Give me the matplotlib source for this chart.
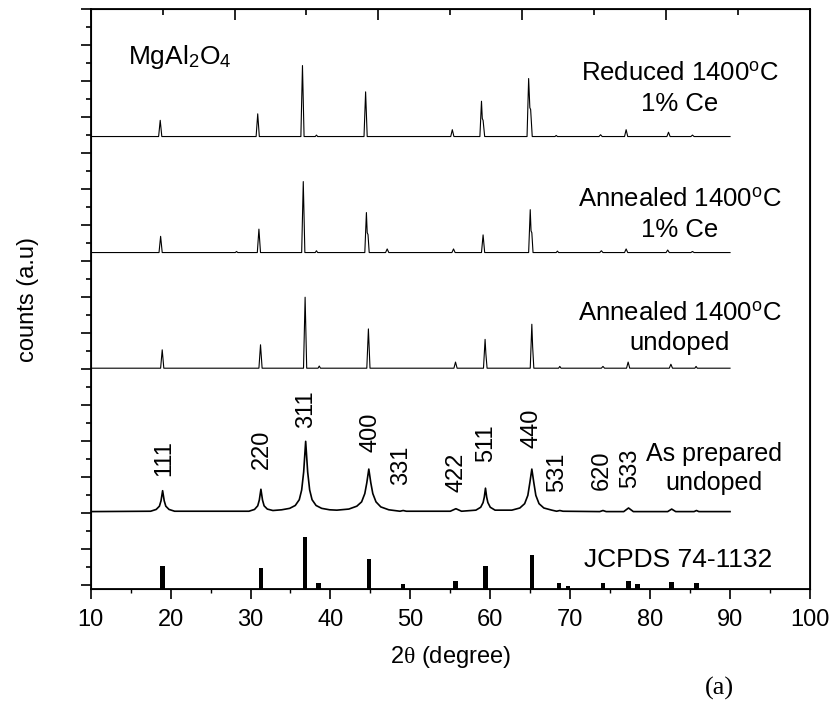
import numpy as np
import matplotlib
matplotlib.use("Agg")
import matplotlib.pyplot as plt

plt.rcParams['font.family'] = ['Liberation Sans', 'DejaVu Sans']
plt.rcParams['mathtext.fontset'] = 'custom'
plt.rcParams['mathtext.rm'] = 'Liberation Sans'
plt.rcParams['mathtext.it'] = 'Liberation Serif'

# XRD patterns (2theta, intensity above own baseline)
reduced_x = [10, 18.5, 18.7, 18.9, 30.7, 30.9, 31.1, 36.3, 36.5, 36.7, 38.1, 38.25, 38.4,
             44.2, 44.4, 44.6, 55.05, 55.25, 55.45, 58.7, 58.9, 59.0, 59.1, 59.3,
             64.6, 64.8, 64.95, 65.05, 65.25, 68.1, 68.25, 68.4, 73.6, 73.8, 74.0,
             76.8, 77.0, 77.2, 82.1, 82.3, 82.5, 85.1, 85.3, 85.5, 90]
reduced_y = [0, 0, 0.45, 0, 0, 0.63, 0, 0, 1.97, 0, 0, 0.04, 0,
             0, 1.24, 0, 0, 0.19, 0, 0, 0.98, 0.5, 0.45, 0,
             0, 1.61, 0.8, 0.75, 0, 0, 0.03, 0, 0, 0.05, 0,
             0, 0.19, 0, 0, 0.12, 0, 0, 0.04, 0, 0]

ann_ce_x = [10, 18.55, 18.75, 18.95, 28.1, 28.25, 28.4, 30.85, 31.05, 31.25, 36.4, 36.6, 36.8,
            38.1, 38.25, 38.4, 44.3, 44.5, 44.6, 44.7, 44.85, 46.9, 47.1, 47.3,
            55.2, 55.4, 55.6, 58.9, 59.1, 59.3, 64.8, 65.0, 65.1, 65.2, 65.35,
            68.25, 68.4, 68.55, 73.7, 73.9, 74.1, 76.8, 77.0, 77.2, 82.0, 82.2, 82.4,
            85.1, 85.3, 85.5, 90]
ann_ce_y = [0, 0, 0.45, 0, 0, 0.03, 0, 0, 0.65, 0, 0, 1.97, 0,
            0, 0.05, 0, 0, 1.11, 0.55, 0.5, 0, 0, 0.1, 0,
            0, 0.1, 0, 0, 0.49, 0, 0, 1.19, 0.6, 0.55, 0,
            0, 0.04, 0, 0, 0.05, 0, 0, 0.1, 0, 0, 0.07, 0,
            0, 0.03, 0, 0]

ann_un_x = [10, 18.75, 18.95, 19.15, 31.05, 31.25, 31.45, 36.63, 36.83, 37.03,
            38.45, 38.6, 38.75, 44.55, 44.75, 44.95, 55.45, 55.65, 55.85,
            59.15, 59.35, 59.45, 59.6, 65.0, 65.2, 65.3, 65.45, 68.55, 68.7, 68.85,
            73.9, 74.1, 74.3, 77.05, 77.25, 77.45, 82.4, 82.6, 82.8, 85.6, 85.75, 85.9, 90]
ann_un_y = [0, 0, 0.51, 0, 0, 0.65, 0, 0, 1.97, 0,
            0, 0.06, 0, 0, 1.09, 0, 0, 0.17, 0,
            0, 0.8, 0.4, 0, 0, 1.22, 0.6, 0, 0, 0.05, 0,
            0, 0.05, 0, 0, 0.17, 0, 0, 0.11, 0, 0, 0.05, 0, 0]

prep_x = [10, 17.5, 18.2, 18.6, 18.8, 19.0, 19.2, 19.4, 19.8, 20.5,
          29.8, 30.5, 30.9, 31.1, 31.3, 31.5, 31.7, 32.1, 32.8,
          33.9, 34.9, 35.6, 36.1, 36.4, 36.65, 36.9, 37.15, 37.4, 37.7, 38.2, 38.9, 39.9, 40.8,
          42.3, 43.3, 43.9, 44.3, 44.55, 44.8, 45.05, 45.3, 45.7, 46.3, 47.3,
          48.7, 49.1, 49.5, 55.0, 55.7, 56.4,
          58.2, 58.8, 59.1, 59.25, 59.4, 59.55, 59.7, 60.0, 60.6,
          62.7, 63.7, 64.3, 64.7, 64.95, 65.2, 65.45, 65.7, 66.1, 66.7, 67.7,
          68.3, 68.7, 69.1, 73.7, 74.1, 74.5, 76.7, 77.0, 77.3, 77.6, 77.9,
          82.2, 82.7, 83.2, 85.5, 85.8, 86.1, 90]
prep_y = [0, 0.01, 0.06, 0.15, 0.3, 0.58, 0.3, 0.15, 0.06, 0.01,
          0.01, 0.06, 0.16, 0.32, 0.62, 0.32, 0.16, 0.07, 0.03,
          0.05, 0.09, 0.17, 0.33, 0.6, 1.1, 1.95, 1.1, 0.6, 0.33, 0.17, 0.09, 0.05, 0.04,
          0.07, 0.15, 0.27, 0.5, 0.8, 1.18, 0.8, 0.5, 0.27, 0.13, 0.05,
          0.01, 0.03, 0.01, 0.01, 0.08, 0.01,
          0.04, 0.12, 0.25, 0.4, 0.65, 0.4, 0.25, 0.12, 0.04,
          0.04, 0.1, 0.22, 0.45, 0.8, 1.18, 0.8, 0.45, 0.22, 0.1, 0.04,
          0.01, 0.03, 0.01, 0, 0.03, 0, 0, 0.05, 0.1, 0.05, 0,
          0, 0.07, 0, 0, 0.03, 0, 0]

# JCPDS 74-1132 reference lines
jcpds_pos = [19.0, 31.3, 36.85, 38.5, 44.8, 49.1, 55.65, 59.4, 65.2, 68.6, 69.7,
             74.1, 77.3, 78.4, 82.7, 85.8]
jcpds_int = [0.65, 0.575, 1.44, 0.17, 0.83, 0.14, 0.22, 0.64, 0.94, 0.16, 0.09,
             0.16, 0.22, 0.13, 0.2, 0.16]

hkl_labels = ['111', '220', '311', '400', '331', '422', '511', '440', '531', '620', '533']
hkl_pos = [19.2, 31.4, 37.0, 45.0, 48.9, 55.75, 59.5, 65.1, 68.3, 74.0, 77.5]

fig = plt.figure(figsize=(8.32, 7.08), dpi=100)
ax = fig.add_axes([0.109, 0.168, 0.8645, 0.8193])

ax.plot(reduced_x, np.array(reduced_y) + 12.46, color='black', lw=0.8)
ax.plot(ann_ce_x, np.array(ann_ce_y) + 9.24, color='black', lw=0.8)
ax.plot(ann_un_x, np.array(ann_un_y) + 6.03, color='black', lw=0.8)
ax.plot(prep_x, np.array(prep_y) + 2.05, color='black', lw=1.2)
ax.bar(jcpds_pos, jcpds_int, width=0.55, bottom=-0.1, color='black')

label_bottoms = [3.04, 3.22, 4.36, 3.71, 2.79, 2.6, 3.42, 3.81, 2.6, 2.65, 2.7]
for lab, xp, yb in zip(hkl_labels, hkl_pos, label_bottoms):
    ax.text(xp, yb, lab, rotation=90, ha='center', va='bottom', fontsize=17)

ax.text(14.7, 14.68, r'MgAl$_\mathrm{2}$O$_\mathrm{4}$', fontsize=19, va='center', ha='left')
ax.text(83.7, 13.8, 'Reduced 1400$^\\mathrm{o}$C\n1% Ce', fontsize=18.5,
        ha='center', va='center', linespacing=1.35)
ax.text(83.7, 10.3, 'Annealed 1400$^\\mathrm{o}$C\n1% Ce', fontsize=18.5,
        ha='center', va='center', linespacing=1.35)
ax.text(83.7, 7.15, 'Annealed 1400$^\\mathrm{o}$C\nundoped', fontsize=18.5,
        ha='center', va='center', linespacing=1.35)
ax.text(88.0, 3.25, 'As prepared\nundoped', fontsize=18,
        ha='center', va='center', linespacing=1.3)
ax.text(83.5, 0.71, 'JCPDS 74-1132', fontsize=19, ha='center', va='center')

ax.set_xlim(10, 100)
ax.set_ylim(-0.1, 16.0)
ax.set_xticks(np.arange(10, 101, 10))
ax.set_xticks(np.arange(15, 100, 10), minor=True)
ax.set_yticks(np.arange(0, 16.1, 1))
ax.set_yticks(np.arange(0.5, 16, 1), minor=True)
ax.set_yticklabels([])
ax.tick_params(axis='x', which='major', direction='out', length=7, width=1.2, labelsize=17, pad=7)
ax.tick_params(axis='x', which='minor', direction='out', length=3, width=1.0)
ax.tick_params(axis='y', which='major', direction='out', length=7.5, width=1.2)
ax.tick_params(axis='y', which='minor', direction='out', length=3.5, width=1.2)
ax.set_xlabel(r'2$\theta$ (degree)', fontsize=17, labelpad=10)
ax.set_ylabel('counts (a.u)', fontsize=17, labelpad=26)
for sp in ax.spines.values():
    sp.set_linewidth(1.3)

top = ax.twiny()
top.set_xlim(10, 100)
top.set_xticks([10, 28, 46, 64, 82, 100])
top.set_xticks([19, 37, 55, 73, 91], minor=True)
top.set_xticklabels([])
top.tick_params(axis='x', which='major', direction='in', length=8, width=1.2)
top.tick_params(axis='x', which='minor', direction='in', length=4, width=1.2)

fig.text(0.865, 0.028, '(a)', fontsize=19, family='Liberation Serif', ha='center', va='center')

fig.savefig('out.png', dpi=100)
